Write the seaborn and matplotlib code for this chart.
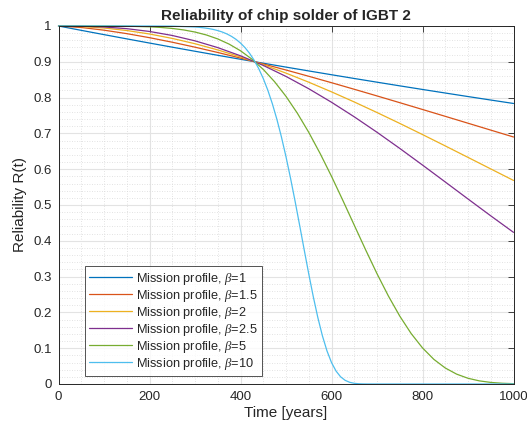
import pandas as pd
import matplotlib
matplotlib.use('Agg')
import matplotlib.pyplot as plt
import seaborn as sns
from matplotlib.ticker import MultipleLocator

# Reliability curves (all cross at ~432 years, R=0.9)
t_coarse = [0, 50, 100, 150, 200, 250, 300, 350, 400, 450, 500,
            550, 600, 650, 700, 750, 800, 850, 900, 950, 1000]

r_beta1 = [1.0, 0.98788, 0.97591, 0.96408, 0.95239, 0.94085, 0.92945, 0.91818, 0.90706, 0.89606, 0.88520,
           0.87447, 0.86387, 0.85340, 0.84306, 0.83284, 0.82275, 0.81278, 0.80293, 0.79320, 0.78359]
r_beta15 = [1.0, 0.99586, 0.98833, 0.97868, 0.96736, 0.95468, 0.94085, 0.92605, 0.91040, 0.89403, 0.87705,
            0.85955, 0.84161, 0.82327, 0.80468, 0.78582, 0.76681, 0.74768, 0.72845, 0.70919, 0.68997]
r_beta2 = [1.0, 0.99859, 0.99437, 0.98738, 0.97767, 0.96533, 0.95046, 0.93318, 0.91364, 0.89197, 0.86837,
           0.84301, 0.81608, 0.78779, 0.75833, 0.72793, 0.69677, 0.66505, 0.63300, 0.60079, 0.56862]
r_beta25 = [1.0, 0.99952, 0.99729, 0.99254, 0.98475, 0.97352, 0.95854, 0.93965, 0.91675, 0.88987, 0.85913,
            0.82473, 0.78701, 0.74633, 0.70319, 0.65808, 0.61159, 0.56431, 0.51683, 0.46974, 0.42361]

t_beta5 = [0, 50, 100, 150, 200, 225, 250, 275, 300, 325, 350, 375, 400, 425, 450, 475, 500,
           525, 550, 575, 600, 625, 650, 675, 700, 725, 750, 775, 800, 825, 850, 875, 900,
           925, 950, 975, 1000]
r_beta5 = [1.0, 1.0, 0.99993, 0.99947, 0.99776, 0.99597, 0.99318, 0.98904, 0.98312, 0.97493, 0.96389,
           0.94940, 0.93079, 0.90745, 0.87880, 0.84422, 0.80344, 0.75628, 0.70299, 0.64386, 0.58013,
           0.51270, 0.44365, 0.37483, 0.30814, 0.24586, 0.18972, 0.14108, 0.10079, 0.06878, 0.04474,
           0.02755, 0.01599, 0.00871, 0.00443, 0.00209, 0.00091]

t_beta10 = [0, 50, 100, 150, 200, 250, 300, 310, 320, 330, 340, 350, 360, 370, 380, 390, 400,
            410, 420, 430, 440, 450, 460, 470, 480, 490, 500, 510, 520, 530, 540, 550, 560,
            570, 580, 590, 600, 610, 620, 630, 640, 650, 660, 670, 680, 690, 700, 750, 800,
            850, 900, 950, 1000]
r_beta10 = [1.0, 1.0, 1.0, 1.0, 0.99995, 0.99956, 0.99726, 0.99619, 0.99477, 0.99290, 0.99044, 0.98724,
            0.98313, 0.97787, 0.97120, 0.96282, 0.95237, 0.93944, 0.92358, 0.90430, 0.88110, 0.85344,
            0.82082, 0.78286, 0.73920, 0.68977, 0.63475, 0.57462, 0.51027, 0.44308, 0.37484, 0.30761,
            0.24373, 0.18543, 0.13465, 0.09266, 0.05995, 0.03615, 0.02011, 0.01021, 0.00467, 0.00190,
            0.00068, 0.00021, 0.00005, 0.00001, 0.0, 0.0, 0.0, 0.0, 0.0, 0.0, 0.0]

labels = ['Mission profile, $\\beta$=1', 'Mission profile, $\\beta$=1.5', 'Mission profile, $\\beta$=2',
          'Mission profile, $\\beta$=2.5', 'Mission profile, $\\beta$=5', 'Mission profile, $\\beta$=10']
colors = ['#0072BD', '#D95319', '#EDB120', '#7E2F8E', '#77AC30', '#4DBEEE']
ytick_labels = ['0', '0.1', '0.2', '0.3', '0.4', '0.5', '0.6', '0.7', '0.8', '0.9', '1']

series = [(t_coarse, r_beta1), (t_coarse, r_beta15), (t_coarse, r_beta2),
          (t_coarse, r_beta25), (t_beta5, r_beta5), (t_beta10, r_beta10)]
frames = []
for lab, (tt, rr) in zip(labels, series):
    frames.append(pd.DataFrame({'Time': tt, 'R': rr, 'profile': lab}))
df = pd.concat(frames, ignore_index=True)

sns.set_style('white')
plt.rcParams['font.family'] = ['Liberation Sans', 'DejaVu Sans']
plt.rcParams['mathtext.fontset'] = 'custom'
plt.rcParams['mathtext.it'] = 'Liberation Serif:italic'

fig = plt.figure(figsize=(5.27, 4.32), dpi=100)
ax = fig.add_axes([58.5 / 527, 1 - 384 / 432, (513.5 - 58.5) / 527, (384 - 26) / 432])

sns.lineplot(data=df, x='Time', y='R', hue='profile', hue_order=labels, palette=colors,
             linewidth=0.9, ax=ax, sort=True, estimator=None, clip_on=False)

ax.set_xlim(0, 1000)
ax.set_ylim(0, 1)
ax.xaxis.set_major_locator(MultipleLocator(200))
ax.xaxis.set_minor_locator(MultipleLocator(50))
ax.yaxis.set_minor_locator(MultipleLocator(0.02))
ax.set_yticks([i / 10 for i in range(11)])
ax.set_yticklabels(ytick_labels)

ax.grid(True, which='major', color='#e3e3e3', linewidth=0.8, linestyle='-')
ax.grid(True, which='minor', color='#d9d9d9', linewidth=0.6, linestyle=(0, (1, 2)))
ax.set_axisbelow(True)

ax.tick_params(which='major', direction='in', length=4, width=0.6, colors='#262626',
               top=True, right=True, labelsize=9.5, pad=5)
ax.tick_params(which='minor', length=0, top=True, right=True)
for sp in ax.spines.values():
    sp.set_color('#262626')
    sp.set_linewidth(0.7)

ax.set_xlabel('Time [years]', fontsize=11, color='#262626', labelpad=2)
ax.set_ylabel('Reliability R(t)', fontsize=11, color='#262626', labelpad=4)
ax.set_title('Reliability of chip solder of IGBT 2', fontsize=11, fontweight='bold', pad=4)

handles, labs = ax.get_legend_handles_labels()
leg = ax.legend(handles, labs, loc='lower left', bbox_to_anchor=(0.058, 0.022), borderaxespad=0,
                fontsize=9.2, frameon=True, fancybox=False, handlelength=3.3, handletextpad=0.35,
                labelspacing=0.08, borderpad=0.35)
leg.get_frame().set_edgecolor('#262626')
leg.get_frame().set_linewidth(0.7)

fig.savefig('out.png', dpi=100)
